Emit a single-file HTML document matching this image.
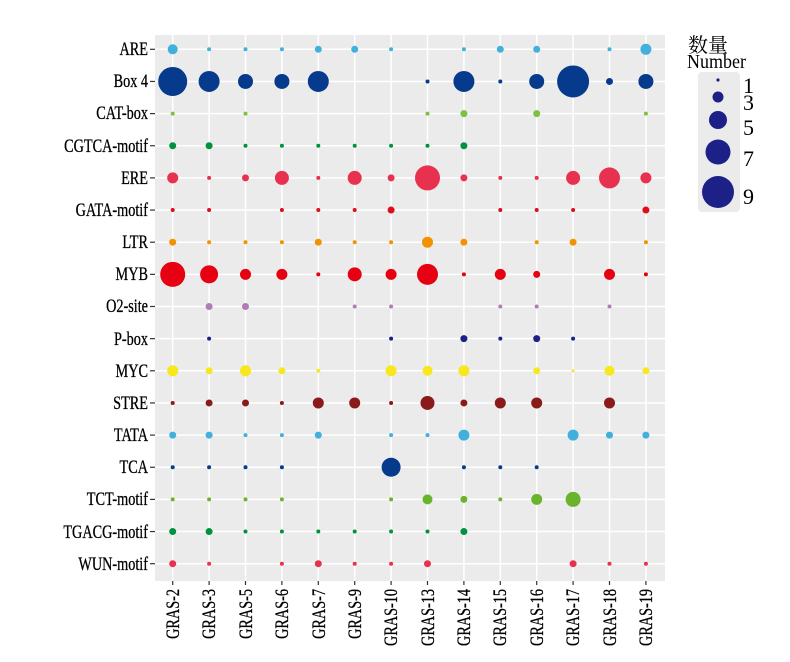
<!DOCTYPE html>
<html><head><meta charset="utf-8"><style>
html,body{margin:0;padding:0;background:#fff;}
svg text{font-family:"Liberation Serif","Noto Serif CJK SC",serif;}
</style></head><body>
<svg id="s" width="790" height="657" xmlns="http://www.w3.org/2000/svg">
<rect x="155" y="35" width="510" height="546" fill="#ebebeb"/>
<g id="grid"></g>
<g id="ylab" font-size="19" text-anchor="end" stroke="#000" stroke-width="0.3">
<text x="148" y="55" transform="translate(148 0) scale(0.75 1) translate(-148 0)">ARE</text>
<text x="148" y="87" transform="translate(148 0) scale(0.75 1) translate(-148 0)">Box 4</text>
<text x="148" y="119" transform="translate(148 0) scale(0.75 1) translate(-148 0)">CAT-box</text>
<text x="148" y="152" transform="translate(148 0) scale(0.75 1) translate(-148 0)">CGTCA-motif</text>
<text x="148" y="184" transform="translate(148 0) scale(0.75 1) translate(-148 0)">ERE</text>
<text x="148" y="216" transform="translate(148 0) scale(0.75 1) translate(-148 0)">GATA-motif</text>
<text x="148" y="248" transform="translate(148 0) scale(0.75 1) translate(-148 0)">LTR</text>
<text x="148" y="280" transform="translate(148 0) scale(0.75 1) translate(-148 0)">MYB</text>
<text x="148" y="312" transform="translate(148 0) scale(0.75 1) translate(-148 0)">O2-site</text>
<text x="148" y="345" transform="translate(148 0) scale(0.75 1) translate(-148 0)">P-box</text>
<text x="148" y="377" transform="translate(148 0) scale(0.75 1) translate(-148 0)">MYC</text>
<text x="148" y="409" transform="translate(148 0) scale(0.75 1) translate(-148 0)">STRE</text>
<text x="148" y="441" transform="translate(148 0) scale(0.75 1) translate(-148 0)">TATA</text>
<text x="148" y="473" transform="translate(148 0) scale(0.75 1) translate(-148 0)">TCA</text>
<text x="148" y="505" transform="translate(148 0) scale(0.75 1) translate(-148 0)">TCT-motif</text>
<text x="148" y="538" transform="translate(148 0) scale(0.75 1) translate(-148 0)">TGACG-motif</text>
<text x="148" y="570" transform="translate(148 0) scale(0.75 1) translate(-148 0)">WUN-motif</text>
</g>
<g id="xlab" font-size="19" text-anchor="end" stroke="#000" stroke-width="0.3">
<text transform="translate(179 589) rotate(-90) scale(0.75 1)">GRAS-2</text>
<text transform="translate(215 589) rotate(-90) scale(0.75 1)">GRAS-3</text>
<text transform="translate(252 589) rotate(-90) scale(0.75 1)">GRAS-5</text>
<text transform="translate(288 589) rotate(-90) scale(0.75 1)">GRAS-6</text>
<text transform="translate(325 589) rotate(-90) scale(0.75 1)">GRAS-7</text>
<text transform="translate(361 589) rotate(-90) scale(0.75 1)">GRAS-9</text>
<text transform="translate(397 589) rotate(-90) scale(0.75 1)">GRAS-10</text>
<text transform="translate(434 589) rotate(-90) scale(0.75 1)">GRAS-13</text>
<text transform="translate(470 589) rotate(-90) scale(0.75 1)">GRAS-14</text>
<text transform="translate(506 589) rotate(-90) scale(0.75 1)">GRAS-15</text>
<text transform="translate(543 589) rotate(-90) scale(0.75 1)">GRAS-16</text>
<text transform="translate(579 589) rotate(-90) scale(0.75 1)">GRAS-17</text>
<text transform="translate(616 589) rotate(-90) scale(0.75 1)">GRAS-18</text>
<text transform="translate(652 589) rotate(-90) scale(0.75 1)">GRAS-19</text>
</g>
<g id="dots"></g>
<text x="688" y="52" font-size="20" font-family="Noto Serif CJK SC, serif">数量</text>
<text x="687" y="68" font-size="20" transform="translate(687 0) scale(0.9 1) translate(-687 0)">Number</text>
<rect x="698" y="72" width="42" height="140" rx="4" fill="#ebebeb"/>
<g fill="#1d2087">
<circle cx="718" cy="80" r="1.6"/><circle cx="718" cy="97" r="5.5"/><circle cx="718" cy="120" r="9"/><circle cx="718" cy="152" r="12.5"/><circle cx="718" cy="192" r="16"/>
</g>
<g font-size="22">
<text x="743" y="93">1</text><text x="743" y="110">3</text><text x="743" y="135">5</text><text x="743" y="166">7</text><text x="743" y="204">9</text>
</g>
</svg>
<script>
var NS="http://www.w3.org/2000/svg";
function el(p,t,a){var e=document.createElementNS(NS,t);for(var k in a)e.setAttribute(k,a[k]);p.appendChild(e);return e;}
var X=[],Y=[];for(var i=0;i<14;i++)X.push(172.7+36.4*i);for(var j=0;j<17;j++)Y.push(49.3+32.15*j);
var g=document.getElementById('grid'),d=document.getElementById('dots'),s=document.getElementById('s');
X.forEach(function(x){el(g,'line',{x1:x,x2:x,y1:35,y2:581,stroke:'#fff','stroke-width':1.5});el(s,'line',{x1:x,x2:x,y1:581,y2:585,stroke:'#333','stroke-width':1.2});});
Y.forEach(function(y){el(g,'line',{x1:155,x2:665,y1:y,y2:y,stroke:'#fff','stroke-width':1.5});el(s,'line',{x1:150,x2:155,y1:y,y2:y,stroke:'#333','stroke-width':1.2});});
var rows=[
['#41b0dd',[5,2,2,2,3.5,3.5,2,0,2,3.5,3.5,0,2,5.5]],
['#063a8c',[14.5,10.5,7.5,7.5,10.5,0,0,2,10.5,2,7.5,16,3.5,7.5]],
['#7cc242',[2,0,2,0,0,0,0,2,3.5,0,3.5,0,0,2]],
['#00923f',[3.5,3.5,2,2,2,2,2,2,3.5,0,0,0,0,0]],
['#e8304f',[5.5,2,3.5,7,2,7,3.5,12.5,3.5,2,2,7,10.5,5.5]],
['#e00b1c',[2,2,0,2,2,2,3.5,0,0,2,2,2,0,3.5]],
['#f39200',[3.5,2,2,2,3.5,2,2,5.5,3.5,0,2,3.5,0,2]],
['#e60012',[12.5,9,5.5,5.5,2,7,5.5,10.5,2,5.5,3.5,0,5.5,2]],
['#b07cb4',[0,3.5,3.5,0,0,2,2,0,0,2,2,0,2,0]],
['#1d2087',[0,2,0,0,0,0,2,0,3.5,2,3.5,2,0,0]],
['#f8e71c',[5.5,3.5,5.5,3.5,2,0,5.5,5,5.5,0,3.5,1.5,5,3.5]],
['#8b1a1a',[2,3.5,3.5,2,5.5,5.5,2,7,3.5,5.5,5.5,0,5.5,0]],
['#41b0dd',[3.5,3.5,2,2,3.5,0,2,2,5.5,0,0,5.5,3.5,3.5]],
['#063a8c',[2,2,2,2,0,0,9.5,0,2,2,2,0,0,0]],
['#6ab42d',[2,2,2,2,0,0,2,5,3.5,2,5.5,7.5,0,0]],
['#00923f',[3.5,3.5,2,2,2,2,2,2,3.5,0,0,0,0,0]],
['#e8304f',[3.5,2,0,2,3.5,2,2,3.5,0,0,0,3.5,2,2]]];
rows.forEach(function(r,j){r[1].forEach(function(v,i){if(v>0)el(d,'circle',{cx:X[i],cy:Y[j],r:v,fill:r[0]});});});
</script>
</body></html>
